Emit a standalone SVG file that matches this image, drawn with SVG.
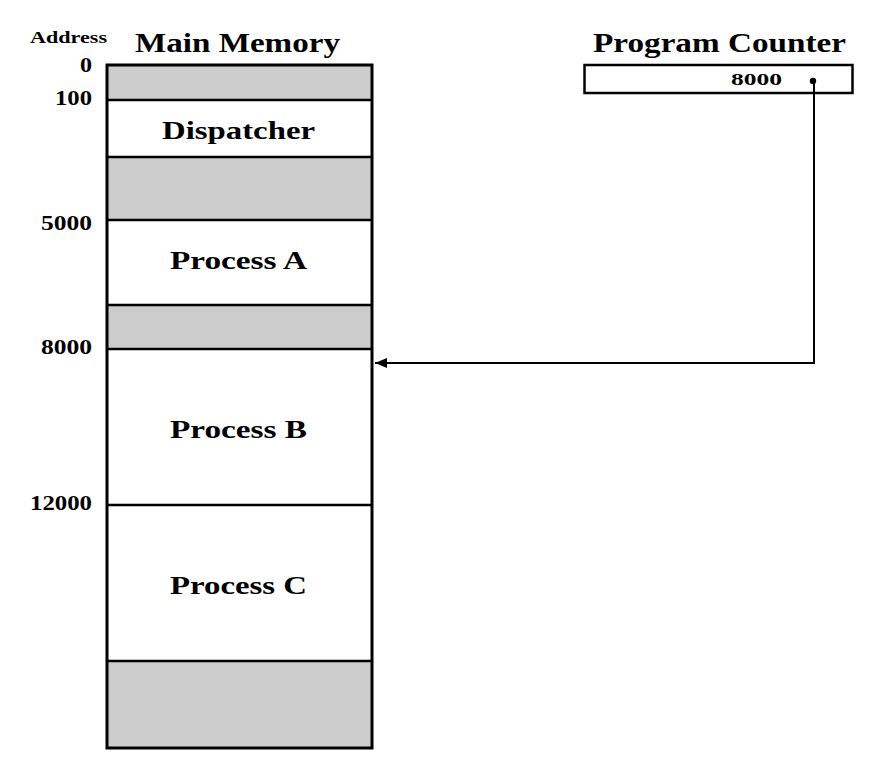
<svg xmlns="http://www.w3.org/2000/svg" width="879" height="781" viewBox="0 0 879 781">
<style>
text{font-family:"Liberation Serif","Times New Roman",serif;font-weight:bold;fill:#000}
.gray{fill:#cccccc;stroke:none}
.div{stroke:#000;stroke-width:2.5;fill:none}
.outer{fill:none;stroke:#000;stroke-width:3}
.lbl{font-size:26px}
.addr{font-size:20px}
</style>
<defs>
<marker id="ah" markerWidth="12" markerHeight="10" refX="12" refY="5" orient="auto" markerUnits="userSpaceOnUse">
<path d="M0,0 L12,5 L0,10 Z" fill="#000"/>
</marker>
</defs>
<rect width="879" height="781" fill="#fff"/>
<g id="headers">
<text x="30" y="43" font-size="16" textLength="77" lengthAdjust="spacingAndGlyphs">Address</text>
<text x="135" y="52" font-size="27" textLength="205" lengthAdjust="spacingAndGlyphs">Main Memory</text>
<text x="593" y="52" font-size="27" textLength="253" lengthAdjust="spacingAndGlyphs">Program Counter</text>
</g>
<g id="main-memory">
<rect class="gray" x="107" y="65" width="265" height="35"/>
<rect class="gray" x="107" y="157" width="265" height="63"/>
<rect class="gray" x="107" y="305" width="265" height="44"/>
<rect class="gray" x="107" y="661" width="265" height="87"/>
<line class="div" x1="107" y1="100" x2="372" y2="100"/>
<line class="div" x1="107" y1="157" x2="372" y2="157"/>
<line class="div" x1="107" y1="220" x2="372" y2="220"/>
<line class="div" x1="107" y1="305" x2="372" y2="305"/>
<line class="div" x1="107" y1="349" x2="372" y2="349"/>
<line class="div" x1="107" y1="505" x2="372" y2="505"/>
<line class="div" x1="107" y1="661" x2="372" y2="661"/>
<rect class="outer" x="107" y="65" width="265" height="683"/>
</g>
<g id="dispatcher"><text class="lbl" x="162" y="139" textLength="153" lengthAdjust="spacingAndGlyphs">Dispatcher</text></g>
<g id="process-a"><text class="lbl" x="170" y="269" textLength="137" lengthAdjust="spacingAndGlyphs">Process A</text></g>
<g id="process-b"><text class="lbl" x="170" y="438" textLength="137" lengthAdjust="spacingAndGlyphs">Process B</text></g>
<g id="process-c"><text class="lbl" x="170" y="594" textLength="137" lengthAdjust="spacingAndGlyphs">Process C</text></g>
<g id="addresses">
<text class="addr" x="80" y="72" textLength="12" lengthAdjust="spacingAndGlyphs">0</text>
<text class="addr" x="55" y="105" textLength="37" lengthAdjust="spacingAndGlyphs">100</text>
<text class="addr" x="41" y="230" textLength="51" lengthAdjust="spacingAndGlyphs">5000</text>
<text class="addr" x="41" y="354" textLength="51" lengthAdjust="spacingAndGlyphs">8000</text>
<text class="addr" x="30" y="510" textLength="62" lengthAdjust="spacingAndGlyphs">12000</text>
</g>
<g id="program-counter">
<rect x="584.5" y="65" width="268" height="28" fill="#fff" stroke="#000" stroke-width="2.5"/>
<text x="731" y="85" font-size="17" textLength="51" lengthAdjust="spacingAndGlyphs">8000</text>
<circle cx="813" cy="81" r="3.2" fill="#000"/>
</g>
<g id="connectors">
<polyline points="814,81 814,363 375,363" fill="none" stroke="#000" stroke-width="2" marker-end="url(#ah)"/>
</g>
</svg>
